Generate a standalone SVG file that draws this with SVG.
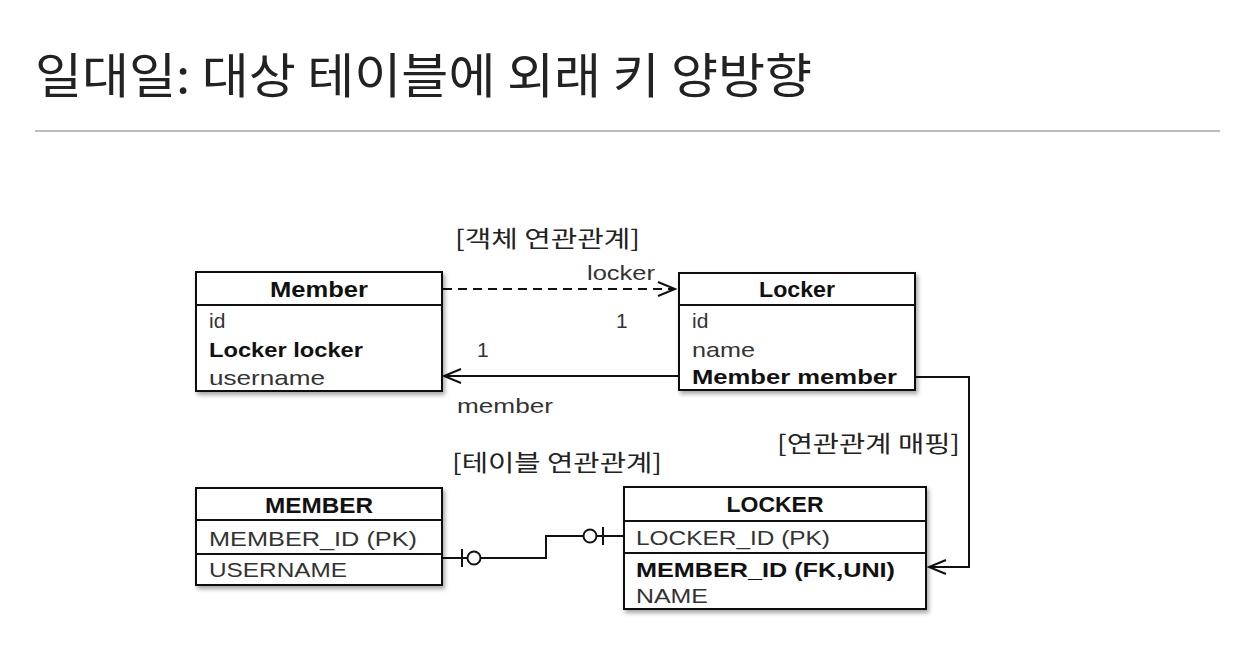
<svg xmlns="http://www.w3.org/2000/svg" width="1254" height="670" viewBox="0 0 1254 670">
<style>
.t{font-family:"Liberation Sans","Noto Sans CJK KR",sans-serif;}
.k{font-family:"Noto Sans CJK KR","Liberation Sans",sans-serif;fill:#222;}
.hd{font-size:22px;font-weight:bold;fill:#111;}
.rw{font-size:21px;fill:#333;}
.bd{font-size:21px;font-weight:bold;fill:#111;}
.lb{font-size:21px;fill:#333;}
.box{fill:#fff;stroke:#111;stroke-width:2;}
.ln{fill:none;stroke:#111;stroke-width:2;}
</style>
<defs>
<filter id="sh" x="-10%" y="-10%" width="130%" height="140%">
<feDropShadow dx="2" dy="3" stdDeviation="2" flood-color="#000" flood-opacity="0.35"/>
</filter>
<marker id="open" markerWidth="20" markerHeight="18" refX="18" refY="8" orient="auto" markerUnits="userSpaceOnUse">
<path d="M1,1 L18,8 L1,15" fill="none" stroke="#111" stroke-width="2"/>
</marker>
</defs>
<rect width="1254" height="670" fill="#fff"/>
<g id="title">
<text class="k" x="35" y="93" font-size="48" textLength="777" lengthAdjust="spacingAndGlyphs" fill="#111">일대일: 대상 테이블에 외래 키 양방향</text>
<line x1="35" y1="131" x2="1220" y2="131" stroke="#bbb" stroke-width="2"/>
</g>
<g id="connectors">
<line class="ln" x1="443" y1="289" x2="675" y2="289" stroke-dasharray="9,6" marker-end="url(#open)"/>
<line class="ln" x1="679" y1="376" x2="444" y2="376" marker-end="url(#open)"/>
<polyline class="ln" points="916,377 969,377 969,567 929,567" marker-end="url(#open)"/>
<polyline class="ln" points="442,558 546,558 546,536 624,536"/>
<line class="ln" x1="462" y1="549" x2="462" y2="567"/>
<circle cx="474" cy="558" r="6.5" fill="#fff" stroke="#111" stroke-width="2"/>
<circle cx="590" cy="536" r="6.5" fill="#fff" stroke="#111" stroke-width="2"/>
<line class="ln" x1="603" y1="527" x2="603" y2="545"/>
<text class="t lb" x="587" y="280" textLength="68" lengthAdjust="spacingAndGlyphs">locker</text>
<text class="t lb" x="616" y="328">1</text>
<text class="t lb" x="477" y="357">1</text>
<text class="t lb" x="457" y="413" textLength="96" lengthAdjust="spacingAndGlyphs">member</text>
<text class="k" x="455" y="247" font-size="23" textLength="185" lengthAdjust="spacingAndGlyphs">[객체 연관관계]</text>
<text class="k" x="777" y="452" font-size="23" textLength="183" lengthAdjust="spacingAndGlyphs">[연관관계 매핑]</text>
<text class="k" x="452" y="471" font-size="23" textLength="210" lengthAdjust="spacingAndGlyphs">[테이블 연관관계]</text>
</g>
<g id="Member">
<rect class="box" x="196" y="272" width="246" height="119" filter="url(#sh)"/>
<line class="ln" x1="196" y1="305" x2="442" y2="305"/>
<text class="t hd" x="319" y="297" text-anchor="middle" textLength="98" lengthAdjust="spacingAndGlyphs">Member</text>
<text class="t rw" x="209" y="328">id</text>
<text class="t bd" x="209" y="357" textLength="154" lengthAdjust="spacingAndGlyphs">Locker locker</text>
<text class="t rw" x="209" y="385" textLength="116" lengthAdjust="spacingAndGlyphs">username</text>
</g>
<g id="Locker">
<rect class="box" x="679" y="273" width="236" height="117" filter="url(#sh)"/>
<line class="ln" x1="679" y1="305" x2="915" y2="305"/>
<text class="t hd" x="797" y="297" text-anchor="middle" textLength="76" lengthAdjust="spacingAndGlyphs">Locker</text>
<text class="t rw" x="692" y="328">id</text>
<text class="t rw" x="692" y="357" textLength="63" lengthAdjust="spacingAndGlyphs">name</text>
<text class="t bd" x="692" y="384" textLength="205" lengthAdjust="spacingAndGlyphs">Member member</text>
</g>
<g id="MEMBER">
<rect class="box" x="196" y="488" width="246" height="97" filter="url(#sh)"/>
<line class="ln" x1="196" y1="520" x2="442" y2="520"/>
<line class="ln" x1="196" y1="554" x2="442" y2="554"/>
<text class="t hd" x="319" y="513" text-anchor="middle" textLength="108" lengthAdjust="spacingAndGlyphs">MEMBER</text>
<text class="t rw" x="209" y="546" textLength="208" lengthAdjust="spacingAndGlyphs">MEMBER_ID (PK)</text>
<text class="t rw" x="209" y="577" textLength="138" lengthAdjust="spacingAndGlyphs">USERNAME</text>
</g>
<g id="LOCKER">
<rect class="box" x="624" y="487" width="302" height="122" filter="url(#sh)"/>
<line class="ln" x1="624" y1="521" x2="926" y2="521"/>
<line class="ln" x1="624" y1="553" x2="926" y2="553"/>
<text class="t hd" x="775" y="512" text-anchor="middle" textLength="97" lengthAdjust="spacingAndGlyphs">LOCKER</text>
<text class="t rw" x="636" y="545" textLength="194" lengthAdjust="spacingAndGlyphs">LOCKER_ID (PK)</text>
<text class="t bd" x="636" y="577" textLength="259" lengthAdjust="spacingAndGlyphs">MEMBER_ID (FK,UNI)</text>
<text class="t rw" x="636" y="603" textLength="72" lengthAdjust="spacingAndGlyphs">NAME</text>
</g>
</svg>
